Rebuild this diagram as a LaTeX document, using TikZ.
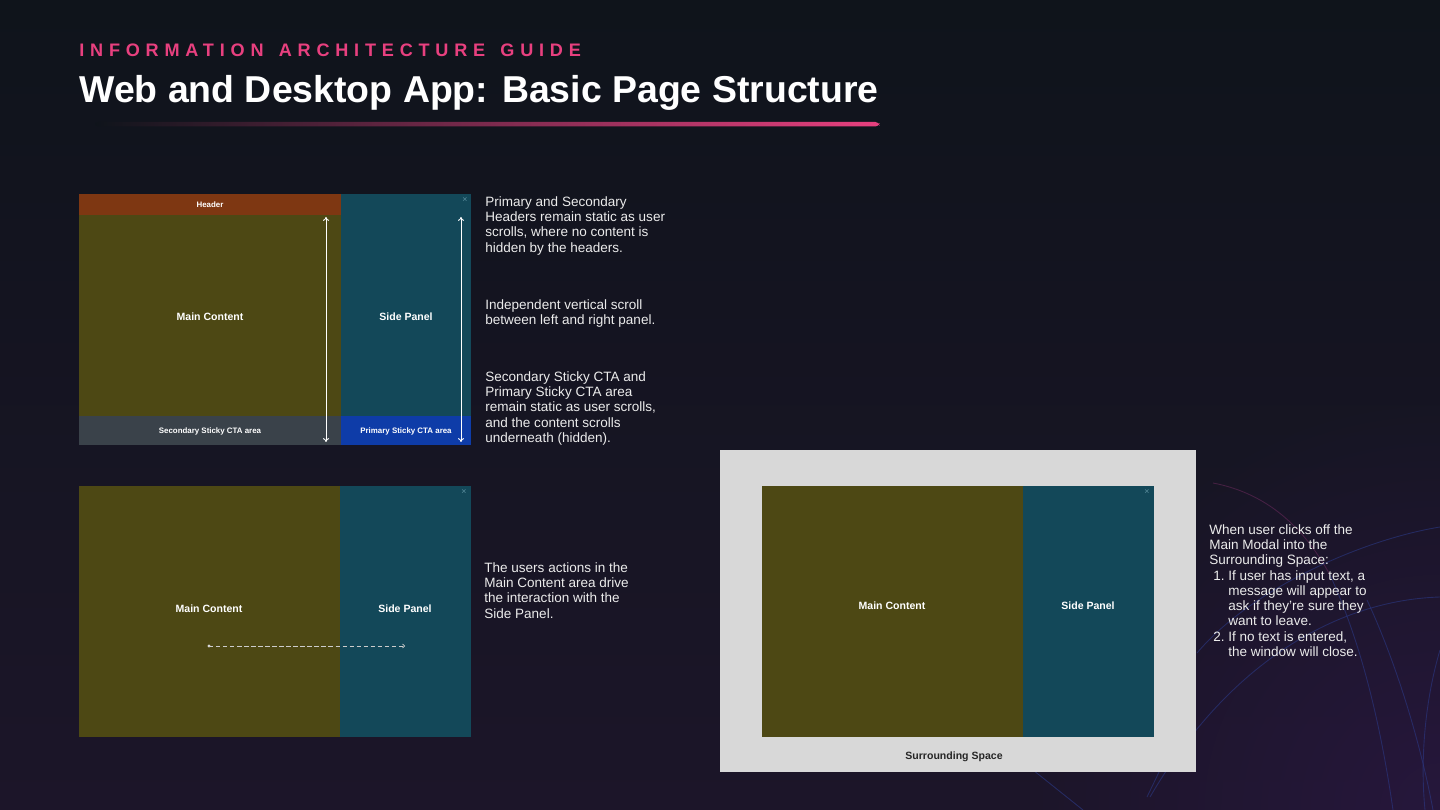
\documentclass[tikz,border=0pt]{standalone}
\usepackage{fontspec}
\setmainfont{Liberation Sans}
\usetikzlibrary{arrows.meta}
\usetikzlibrary{fadings}
\definecolor{bgtop}{HTML}{0F141B}
\definecolor{bgbot}{HTML}{1C1529}
\definecolor{myplum}{HTML}{2A1842}
\definecolor{mypink}{HTML}{E8407F}
\definecolor{headbrown}{HTML}{7E3712}
\definecolor{mainolive}{HTML}{4D4814}
\definecolor{sideteal}{HTML}{134859}
\definecolor{ctagrey}{HTML}{3A424A}
\definecolor{ctablue}{HTML}{0E3CA8}
\definecolor{spacegrey}{HTML}{D8D8D8}
\definecolor{closeteal}{HTML}{5B8F9E}
\definecolor{notewhite}{HTML}{ECECEC}
\definecolor{swirlblue}{HTML}{2C3C8C}
\definecolor{swirlpink}{HTML}{6A2A5C}
\tikzfading[name=glowfade, inner color=transparent!0, outer color=transparent!100]
\tikzset{
  note/.style={anchor=north west, inner sep=0pt, align=left, text=notewhite,
    font=\fontsize{7.7}{8.7}\selectfont},
  paneltext/.style={inner sep=0pt, text=white, font=\fontsize{6}{7}\selectfont\bfseries},
  smalltext/.style={inner sep=0pt, text=white, font=\fontsize{4.5}{5}\selectfont\bfseries},
  closer/.style={inner sep=0pt, text=closeteal, font=\fontsize{5}{5}\selectfont},
  scroll/.style={draw=white, line width=0.5pt, {To[length=2.2pt,width=3.5pt]}-{To[length=2.2pt,width=3.5pt]}},
  swirl/.style={line width=0.5pt, opacity=0.55}
}
\begin{document}
\begin{tikzpicture}[x=0.02cm, y=-0.02cm]
  \fill[top color=bgtop, bottom color=bgbot] (0,0) rectangle (1440,810);
  \useasboundingbox (0,0) rectangle (1440,810);
  \fill[myplum, opacity=0.75, path fading=glowfade] (1440,810) circle [radius=420];

  % faint swirls behind the right hand side
  \draw[swirl, swirlpink] (1213,483) .. controls (1260,492) and (1300,520) .. (1330,575);
  \draw[swirl, swirlblue] (1330,575) .. controls (1360,640) and (1380,720) .. (1393,810);
  \draw[swirl, swirlblue] (1440,527) .. controls (1360,540) and (1250,590) .. (1197,653);
  \draw[swirl, swirlblue] (1440,597) .. controls (1340,600) and (1230,660) .. (1150,797);
  \draw[swirl, swirlblue] (1367,600) .. controls (1395,660) and (1420,740) .. (1433,810);
  \draw[swirl, swirlblue] (1440,650) .. controls (1425,700) and (1420,760) .. (1425,810);
  \draw[swirl, swirlblue] (1033,770) -- (1083,810);
  \draw[swirl, swirlblue] (1147,797) -- (1160,770);

  % title
  \node[anchor=base west, inner sep=0pt, text=mypink,
    font=\fontsize{10.3}{12}\selectfont\bfseries\addfontfeature{LetterSpace=32}] (guide) at (79,57)
    {INFORMATION\hspace{2.5pt} ARCHITECTURE\hspace{2.5pt} GUIDE};
  \node[anchor=base west, inner sep=0pt, text=white,
    font=\fontsize{21.3}{24}\selectfont\bfseries] (title) at (79,103)
    {Web and Desktop App: Basic Page Structure};
  \shade[left color=bgtop, right color=mypink, rounded corners=2] (95,122) rectangle (879,126.5);

  % sticky layout
  \fill[headbrown] (79,194) rectangle (341,215);
  \fill[mainolive] (79,215) rectangle (341,416);
  \fill[sideteal] (341,194) rectangle (471,416);
  \fill[ctagrey] (79,416) rectangle (341,445);
  \fill[ctablue] (341,416) rectangle (471,445);
  \node[smalltext] (header) at (210,205) {Header};
  \node[paneltext] (stickymain) at (210,317) {Main Content};
  \node[paneltext] (stickyside) at (406,317) {Side Panel};
  \node[smalltext] (secondcta) at (210,431) {Secondary Sticky CTA area};
  \node[smalltext] (primecta) at (406,431) {Primary Sticky CTA area};
  \node[closer] (stickyx) at (465,200) {×};
  \coordinate (lefttop) at (326,217);
  \coordinate (leftbot) at (326,442);
  \coordinate (righttop) at (461,217);
  \coordinate (rightbot) at (461,442);
  \draw[scroll] (lefttop) -- (leftbot);
  \draw[scroll] (righttop) -- (rightbot);

  \node[note] (headnote) at (485,196)
    {Primary and Secondary\\Headers remain static as user\\scrolls, where no content is\\hidden by the headers.};
  \node[note] (scrollnote) at (485,299)
    {Independent vertical scroll\\between left and right panel.};
  \node[note] (ctanote) at (485,371)
    {Secondary Sticky CTA and\\Primary Sticky CTA area\\remain static as user scrolls,\\and the content scrolls\\underneath (hidden).};

  % main content drives the side panel
  \fill[mainolive] (79,486) rectangle (340,737);
  \fill[sideteal] (340,486) rectangle (471,737);
  \node[paneltext] (drivemain) at (209,609) {Main Content};
  \node[paneltext] (driveside) at (405,609) {Side Panel};
  \node[closer] (drivex) at (464,492) {×};
  \coordinate (actfrom) at (209,646);
  \coordinate (actto) at (405,646);
  \fill[white!85!black] (actfrom) circle [radius=1.6];
  \draw[white!80!black, line width=0.4pt, dash pattern=on 2.5pt off 1.5pt,
    -{To[length=1.6pt,width=2.6pt]}] (actfrom) -- (actto);
  \node[note] (actnote) at (484,562)
    {The users actions in the\\Main Content area drive\\the interaction with the\\Side Panel.};

  % modal with surrounding space
  \fill[spacegrey] (720,450) rectangle (1196,772);
  \fill[mainolive] (762,486) rectangle (1023,737);
  \fill[sideteal] (1023,486) rectangle (1154,737);
  \node[paneltext] (modalmain) at (892,606) {Main Content};
  \node[paneltext] (modalside) at (1088,606) {Side Panel};
  \node[closer] (modalx) at (1147,492) {×};
  \node[paneltext, text=black!85] (space) at (954,757) {Surrounding Space};
  \node[note] (modalnote) at (1209,524)
    {When user clicks off the\\Main Modal into the\\Surrounding Space:\\
     \hspace*{2.3pt}\makebox[8.5pt][l]{1.}If user has input text, a\\
     \hspace*{10.8pt}message will appear to\\
     \hspace*{10.8pt}ask if they’re sure they\\
     \hspace*{10.8pt}want to leave.\\
     \hspace*{2.3pt}\makebox[8.5pt][l]{2.}If no text is entered,\\
     \hspace*{10.8pt}the window will close.};
\end{tikzpicture}
\end{document}
